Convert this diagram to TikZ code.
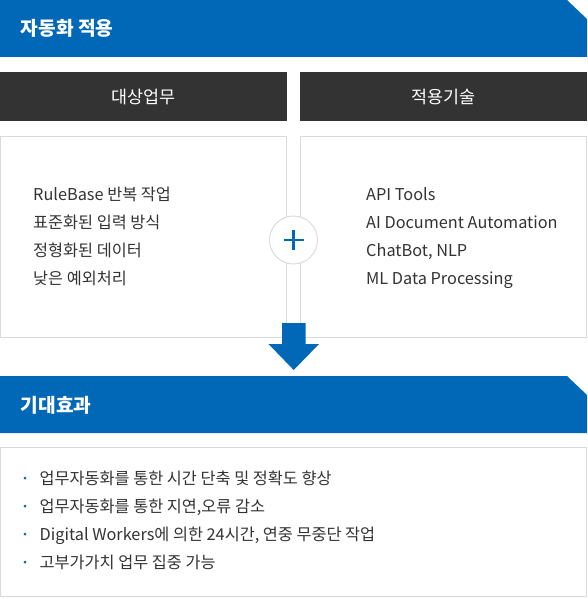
\documentclass[tikz,border=0pt]{standalone}
\usepackage{fontspec}
\usetikzlibrary{calc}
\setmainfont{Noto Sans CJK KR}
\definecolor{mblue}{HTML}{0068B7}
\definecolor{mdark}{HTML}{333333}
\definecolor{mline}{HTML}{DADADA}
\definecolor{mtext}{HTML}{333333}
\tikzset{
  banner/.style={fill=mblue, draw=none},
  bannertext/.style={text=white, font=\fontsize{19.2}{21}\selectfont\bfseries, anchor=west, inner sep=0pt},
  headbox/.style={fill=mdark, draw=none, text=white, font=\fontsize{17.4}{19}\selectfont, inner sep=0pt},
  panel/.style={draw=mline, line width=0.9pt, fill=white},
  item/.style={text=mtext, font=\fontsize{16.3}{18}\selectfont, anchor=base west, inner sep=0pt},
  bulletdot/.style={circle, fill=mblue, inner sep=0pt, minimum size=3pt},
}
\begin{document}
\begin{tikzpicture}[x=1pt,y=-1pt]
\useasboundingbox (0,0) rectangle (587,599);
\fill[white] (0,0) rectangle (587,599);
% top banner
\path[banner] (0,0) -- (567,0) -- (587,19) -- (587,57) -- (0,57) -- cycle;
\node[bannertext] (t1) at (20.5,28) {자동화 적용};
% header boxes
\node[headbox, minimum width=287pt, minimum height=49pt, anchor=north west] (h1) at (0,72) {대상업무};
\node[headbox, minimum width=287pt, minimum height=49pt, anchor=north west] (h2) at (300,72) {적용기술};
% panels
\draw[panel] (0.45,136) rectangle (286.8,337);
\draw[panel] (300.2,136) rectangle (586.55,337);
% left list
\node[item] (l1) at (33,200) {RuleBase 반복 작업};
\node[item] (l2) at (33,228) {표준화된 입력 방식};
\node[item] (l3) at (33,256) {정형화된 데이터};
\node[item] (l4) at (33,284) {낮은 예외처리};
% right list
\node[item] (r1) at (366,200) {API Tools};
\node[item] (r2) at (366,228) {AI Document Automation};
\node[item] (r3) at (366,256) {ChatBot, NLP};
\node[item] (r4) at (366,284) {ML Data Processing};
% plus circle
\node[circle, draw=mline, fill=white, line width=0.9pt, minimum size=48pt, inner sep=0pt] (plus) at (293.5,240) {};
\draw[mblue, line width=2.6pt] ($(plus.center)+(-10,0)$) -- ($(plus.center)+(10,0)$);
\draw[mblue, line width=2.6pt] ($(plus.center)+(0,-10)$) -- ($(plus.center)+(0,10)$);
% arrow
\fill[mblue] (282,323) -- (305.5,323) -- (305.5,344) -- (319,344) -- (293.7,370) -- (268.5,344) -- (282,344) -- cycle;
% second banner
\path[banner] (0,376) -- (567,376) -- (587,395) -- (587,433) -- (0,433) -- cycle;
\node[bannertext] (t2) at (20.5,405) {기대효과};
% bottom panel
\draw[panel] (0.45,447) rectangle (586.55,596.5);
\foreach \yy/\txt [count=\i] in {478/업무자동화를 통한 시간 단축 및 정확도 향상, 506/{업무자동화를 통한 지연,오류 감소}, 534/{Digital Workers에 의한 24시간, 연중 무중단 작업}, 562/고부가가치 업무 집중 가능}{
  \node[bulletdot] (d\i) at (25,\yy) {};
  \node[item] (b\i) at (39.5,\yy+6) {\txt};
}
\end{tikzpicture}
\end{document}
